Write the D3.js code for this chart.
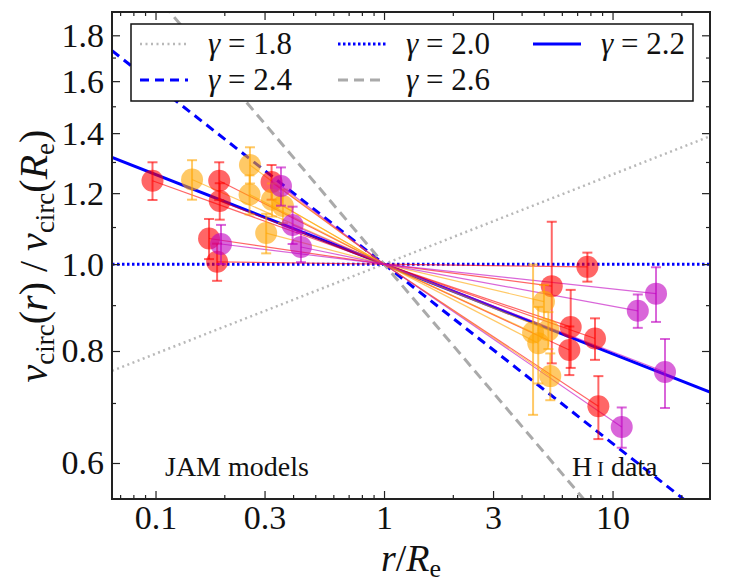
<!DOCTYPE html>
<html>
<head>
<meta charset="utf-8">
<script src="https://cdn.jsdelivr.net/npm/d3@7"></script>
</head>
<body style="margin:0">
<div id="chart"></div>
<script>
// power-law slopes shown as reference lines
const gammas = [1.8, 2.0, 2.2, 2.4, 2.6];
const gammaStyles = [
  { color: "#b8b8b8", dash: "2,3.5", width: 2.5 },
  { color: "#0000ff", dash: "2.5,2.5", width: 3 },
  { color: "#0000ff", dash: null, width: 3 },
  { color: "#0000ff", dash: "9,6", width: 3 },
  { color: "#aaaaaa", dash: "10,6", width: 3 },
];

// [r/Re, v ratio, error]
const jamRed = [[0.097, 1.239, 0.06], [0.19, 1.239, 0.06], [0.191, 1.176, 0.055],
  [0.1715, 1.068, 0.055], [0.186, 1.006, 0.048], [0.322, 1.235, 0.055]];
const jamOrange = [[0.1445, 1.243, 0.063], [0.259, 1.29, 0.06], [0.258, 1.196, 0.06],
  [0.3235, 1.18, 0.05], [0.361, 1.161, 0.05], [0.305, 1.083, 0.055]];
const jamPurple = [[0.354, 1.222, 0.06], [0.1935, 1.053, 0.053], [0.398, 1.106, 0.053],
  [0.433, 1.045, 0.04]];
const hiRed = [[7.76, 0.993, 0.037], [5.42, 0.945, 0.17], [6.56, 0.851, 0.085],
  [6.47, 0.802, 0.05], [8.38, 0.826, 0.044], [8.67, 0.694, 0.056]];
const hiOrange = [[5.01, 0.908, 0.04], [4.49, 0.839, 0.16], [4.73, 0.816, 0.08],
  [5.24, 0.844, 0.04], [5.34, 0.75, 0.045]];
const hiPurple = [[15.5, 0.927, 0.065], [12.9, 0.887, 0.038], [16.97, 0.758, 0.067],
  [10.97, 0.658, 0.034]];

const groups = [
  { pts: jamRed, color: "#ff0000" }, { pts: jamOrange, color: "#ffa500" },
  { pts: jamPurple, color: "#bf00bf" }, { pts: hiRed, color: "#ff0000" },
  { pts: hiOrange, color: "#ffa500" }, { pts: hiPurple, color: "#bf00bf" },
];

const xLabels = [0.1, 0.3, 1, 3, 10];
const xMinor = [0.07, 0.08, 0.09, 0.2, 0.4, 0.5, 0.6, 0.7, 0.8, 0.9,
  2, 4, 5, 6, 7, 8, 9, 20];
const yLabels = [0.6, 0.8, 1.0, 1.2, 1.4, 1.6, 1.8];
const yMinor = [0.7, 0.9, 1.1, 1.3, 1.5, 1.7];

const width = 747, height = 587;
const m = { left: 112, right: 710, top: 12, bottom: 499 };
const serif = "Liberation Serif";
const ink = "#111";

const svg = d3.select("#chart").append("svg")
  .attr("width", width).attr("height", height);

const x = d3.scaleLog().domain([0.0645, 26.7]).range([m.left, m.right]);
const y = d3.scaleLog().domain([0.547, 1.911]).range([m.bottom, m.top]);

svg.append("clipPath").attr("id", "clip")
  .append("rect").attr("x", m.left).attr("y", m.top)
  .attr("width", m.right - m.left).attr("height", m.bottom - m.top);

const plot = svg.append("g").attr("clip-path", "url(#clip)");

// gamma lines
const line = d3.line().x((d) => x(d[0])).y((d) => y(d[1]));
gammas.forEach((g, i) => {
  const st = gammaStyles[i];
  const pts = x.domain().map((r) => [r, Math.pow(r, (2 - g) / 2)]);
  plot.append("path").attr("d", line(pts))
    .attr("fill", "none").attr("stroke", st.color)
    .attr("stroke-width", st.width)
    .attr("stroke-dasharray", st.dash);
});

// thin lines to (1,1)
groups.forEach((grp) => {
  plot.selectAll(null).data(grp.pts).enter().append("line")
    .attr("x1", (d) => x(d[0])).attr("y1", (d) => y(d[1]))
    .attr("x2", x(1)).attr("y2", y(1))
    .attr("stroke", grp.color).attr("stroke-opacity", 0.6)
    .attr("stroke-width", 1.2);
});

// error bars + points
groups.forEach((grp) => {
  const g = plot.append("g");
  const eb = g.selectAll(null).data(grp.pts).enter().append("g")
    .attr("stroke", grp.color).attr("stroke-opacity", 0.6)
    .attr("stroke-width", 2);
  eb.append("line")
    .attr("x1", (d) => x(d[0])).attr("x2", (d) => x(d[0]))
    .attr("y1", (d) => y(d[1] + d[2])).attr("y2", (d) => y(d[1] - d[2]));
  eb.append("line")
    .attr("x1", (d) => x(d[0]) - 5).attr("x2", (d) => x(d[0]) + 5)
    .attr("y1", (d) => y(d[1] + d[2])).attr("y2", (d) => y(d[1] + d[2]));
  eb.append("line")
    .attr("x1", (d) => x(d[0]) - 5).attr("x2", (d) => x(d[0]) + 5)
    .attr("y1", (d) => y(d[1] - d[2])).attr("y2", (d) => y(d[1] - d[2]));
  g.selectAll("circle").data(grp.pts).enter().append("circle")
    .attr("cx", (d) => x(d[0])).attr("cy", (d) => y(d[1]))
    .attr("r", 11).attr("fill", grp.color).attr("fill-opacity", 0.6);
});

// axes (ticks point inward)
const fmt = (d) => (d < 1 ? d3.format(".1f")(d) : d3.format("d")(d));
const axes = [
  svg.append("g").attr("transform", `translate(0,${m.bottom})`)
    .call(d3.axisBottom(x).tickValues(xMinor).tickSize(-4).tickFormat("")),
  svg.append("g").attr("transform", `translate(0,${m.bottom})`)
    .call(d3.axisBottom(x).tickValues(xLabels).tickSize(-8).tickPadding(6).tickFormat(fmt)),
  svg.append("g").attr("transform", `translate(0,${m.top})`)
    .call(d3.axisTop(x).tickValues(xMinor).tickSize(-4).tickFormat("")),
  svg.append("g").attr("transform", `translate(0,${m.top})`)
    .call(d3.axisTop(x).tickValues(xLabels).tickSize(-8).tickFormat("")),
  svg.append("g").attr("transform", `translate(${m.left},0)`)
    .call(d3.axisLeft(y).tickValues(yMinor).tickSize(-4).tickFormat("")),
  svg.append("g").attr("transform", `translate(${m.left},0)`)
    .call(d3.axisLeft(y).tickValues(yLabels).tickSize(-8).tickPadding(8).tickFormat(d3.format(".1f"))),
  svg.append("g").attr("transform", `translate(${m.right},0)`)
    .call(d3.axisRight(y).tickValues(yMinor).tickSize(-4).tickFormat("")),
  svg.append("g").attr("transform", `translate(${m.right},0)`)
    .call(d3.axisRight(y).tickValues(yLabels).tickSize(-8).tickFormat("")),
];
axes.forEach((a) => {
  a.attr("font-family", serif).attr("font-size", 34);
  a.select(".domain").remove();
  a.selectAll(".tick line").attr("stroke", "#222").attr("stroke-width", 1.2);
  a.selectAll("text").attr("fill", ink).attr("font-size", 34);
});

svg.append("rect").attr("x", m.left).attr("y", m.top)
  .attr("width", m.right - m.left).attr("height", m.bottom - m.top)
  .attr("fill", "none").attr("stroke", "#222").attr("stroke-width", 2);

// legend
const lg = svg.append("g");
lg.append("rect").attr("x", 131).attr("y", 24).attr("width", 562).attr("height", 77)
  .attr("fill", "#fff").attr("stroke", ink).attr("stroke-width", 1.5);
const cols = [140, 338, 533], rows = [44, 80];
gammas.forEach((gv, k) => {
  const cx = cols[k % 3], cy = rows[Math.floor(k / 3)];
  const st = gammaStyles[k];
  lg.append("line").attr("x1", cx).attr("x2", cx + 48).attr("y1", cy).attr("y2", cy)
    .attr("stroke", st.color).attr("stroke-width", st.width)
    .attr("stroke-dasharray", st.dash);
  const t = lg.append("text").attr("x", cx + 68).attr("y", cy + 10)
    .attr("font-size", 31).attr("fill", ink);
  t.append("tspan").attr("font-style", "italic").text("γ");
  t.append("tspan").text(" = " + d3.format(".1f")(gv));
});

// annotations
svg.append("text").attr("x", 165).attr("y", 476).attr("font-size", 28)
  .attr("fill", ink).text("JAM models");
const hi = svg.append("text").attr("x", 572).attr("y", 476).attr("font-size", 28)
  .attr("fill", ink);
hi.append("tspan").text("H");
hi.append("tspan").attr("font-size", 20).attr("dx", 5).text("I");
hi.append("tspan").text(" data");

// axis labels
const xl = svg.append("text").attr("x", 411).attr("y", 571)
  .attr("text-anchor", "middle").attr("font-size", 38).attr("fill", ink);
xl.append("tspan").attr("font-style", "italic").text("r");
xl.append("tspan").text("/");
xl.append("tspan").attr("font-style", "italic").text("R");
xl.append("tspan").attr("font-size", 26).attr("dy", 6).text("e");

const yl = svg.append("text")
  .attr("transform", "translate(47,256) rotate(-90)")
  .attr("text-anchor", "middle").attr("font-size", 40).attr("fill", ink);
const sub = (txt) => {
  yl.append("tspan").attr("font-size", 27).attr("dy", 7).text(txt);
};
yl.append("tspan").attr("font-style", "italic").text("v");
sub("circ");
yl.append("tspan").attr("dy", -7).text("(");
yl.append("tspan").attr("font-style", "italic").text("r");
yl.append("tspan").text(") / ");
yl.append("tspan").attr("font-style", "italic").text("v");
sub("circ");
yl.append("tspan").attr("dy", -7).text("(");
yl.append("tspan").attr("font-style", "italic").text("R");
sub("e");
yl.append("tspan").attr("dy", -7).text(")");

// set the face on every text node directly
svg.selectAll("text, tspan")
  .attr("font-family", serif)
  .style("font-family", serif);
</script>
</body>
</html>
